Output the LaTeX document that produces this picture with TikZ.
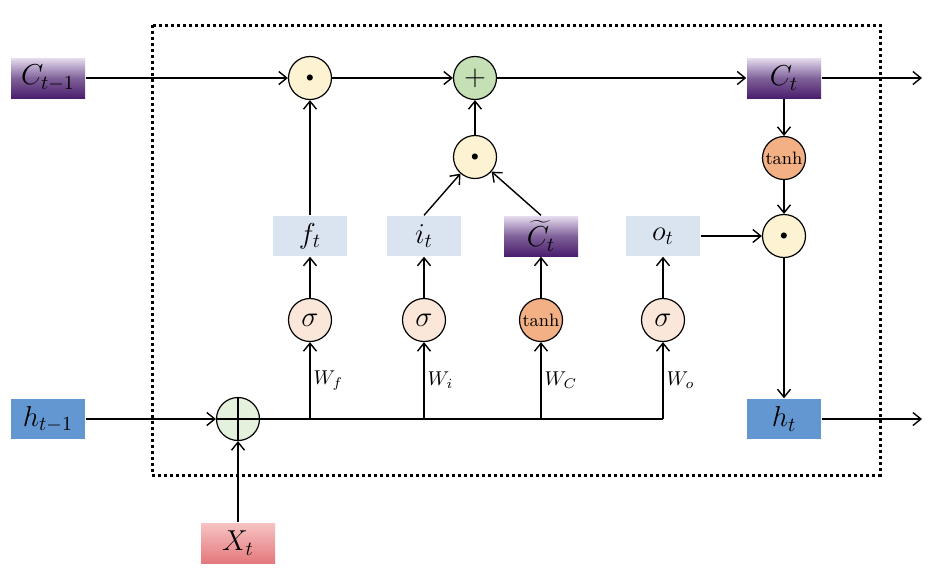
\documentclass[tikz,border=0pt]{standalone}
\usetikzlibrary{arrows.meta}

\definecolor{cellpurple}{HTML}{4A1F6E}
\definecolor{celllight}{HTML}{E6DCF0}
\definecolor{gateblue}{HTML}{DAE4F1}
\definecolor{hiddenblue}{HTML}{6397D2}
\definecolor{inputtop}{HTML}{F7C3C3}
\definecolor{inputbot}{HTML}{E4797C}
\definecolor{multyellow}{HTML}{FDF3D3}
\definecolor{addgreen}{HTML}{C5E0B4}
\definecolor{mixgreen}{HTML}{E4F1DC}
\definecolor{sigpeach}{HTML}{FBE7DA}
\definecolor{tanhorange}{HTML}{F2B084}

\tikzset{
  box/.style={minimum width=37pt, minimum height=20pt, inner sep=0pt, font=\Large},
  cellbox/.style={box, top color=celllight, bottom color=cellpurple, middle color=cellpurple!70},
  gatebox/.style={box, fill=gateblue},
  hiddenbox/.style={box, fill=hiddenblue},
  inputbox/.style={box, top color=inputtop, bottom color=inputbot},
  op/.style={circle, draw, line width=0.6pt, minimum size=21.5pt, inner sep=0pt},
  mult/.style={op, fill=multyellow},
  addc/.style={op, fill=addgreen, font=\Large},
  sig/.style={op, fill=sigpeach, font=\Large},
  tanhc/.style={op, fill=tanhorange, font=\small},
  mixc/.style={op, fill=mixgreen, path picture={
      \draw[line width=0.6pt] (path picture bounding box.north) -- (path picture bounding box.south)
        (path picture bounding box.west) -- (path picture bounding box.east);}},
  wlabel/.style={font=\normalsize, right, inner sep=1.5pt},
}

\begin{document}
\begin{tikzpicture}[x=0.5pt, y=-0.5pt, >={Straight Barb[length=4pt, width=6.5pt]}, line width=0.7pt]
    \useasboundingbox (0,0) rectangle (952,575);

    % cell frame
    \draw[line width=1.5pt, dash pattern=on 1.5pt off 1.5pt] (152,25) rectangle (880,475);

    % cell state row
    \node[cellbox] (ctprev) at (48,78) {$C_{t-1}$};
    \node[mult] (mf) at (310,78) {\scriptsize$\bullet$};
    \node[addc] (add) at (475,78) {$+$};
    \node[cellbox] (ct) at (784,78) {$C_t$};
    \coordinate (ctout) at (922,78);

    % gates
    \node[mult] (mc) at (475,157) {\scriptsize$\bullet$};
    \node[gatebox] (ft) at (310,236) {$f_t$};
    \node[gatebox] (it) at (424,236) {$i_t$};
    \node[cellbox] (ctil) at (541,236) {$\widetilde{C}_t$};
    \node[gatebox] (ot) at (663,236) {$o_t$};
    \node[tanhc] (tc) at (784,158) {tanh};
    \node[mult] (mo) at (784,236) {\scriptsize$\bullet$};

    % activations
    \node[sig] (sf) at (310,320) {$\sigma$};
    \node[sig] (si) at (424,320) {$\sigma$};
    \node[tanhc] (tcand) at (541,320) {tanh};
    \node[sig] (so) at (663,320) {$\sigma$};

    % hidden row
    \node[hiddenbox] (hprev) at (48,419) {$h_{t-1}$};
    \node[mixc] (mix) at (238,419) {};
    \node[inputbox] (xt) at (238,543) {$X_t$};
    \node[hiddenbox] (ht) at (784,419) {$h_t$};
    \coordinate (htout) at (922,419);
    \coordinate (jf) at (310,419);
    \coordinate (ji) at (424,419);
    \coordinate (jc) at (541,419);
    \coordinate (jo) at (663,419);

    % connectors
    \draw[->] (ctprev) -- (mf);
    \draw[->] (mf) -- (add);
    \draw[->] (add) -- (ct);
    \draw[->] (ct) -- (ctout);
    \draw[->] (ct) -- (tc);
    \draw[->] (tc) -- (mo);
    \draw[->] (ot) -- (mo);
    \draw[->] (mo) -- (ht);
    \draw[->] (ht) -- (htout);
    \draw[->] (hprev) -- (mix);
    \draw[->] (xt) -- (mix);
    \draw[line width=1pt] (mix) -- (jo);

    \draw[->] (jf) -- (sf) node[wlabel, pos=0.5] {$W_f$};
    \draw[->] (ji) -- (si) node[wlabel, pos=0.5] {$W_i$};
    \draw[->] (jc) -- (tcand) node[wlabel, pos=0.5] {$W_C$};
    \draw[->] (jo) -- (so) node[wlabel, pos=0.5] {$W_o$};

    \draw[->] (sf) -- (ft);
    \draw[->] (si) -- (it);
    \draw[->] (tcand) -- (ctil);
    \draw[->] (so) -- (ot);

    \draw[->] (ft) -- (mf);
    \draw[->] (it.north) -- (mc);
    \draw[->] (ctil.north) -- (mc);
    \draw[->] (mc) -- (add);

\end{tikzpicture}
\end{document}
